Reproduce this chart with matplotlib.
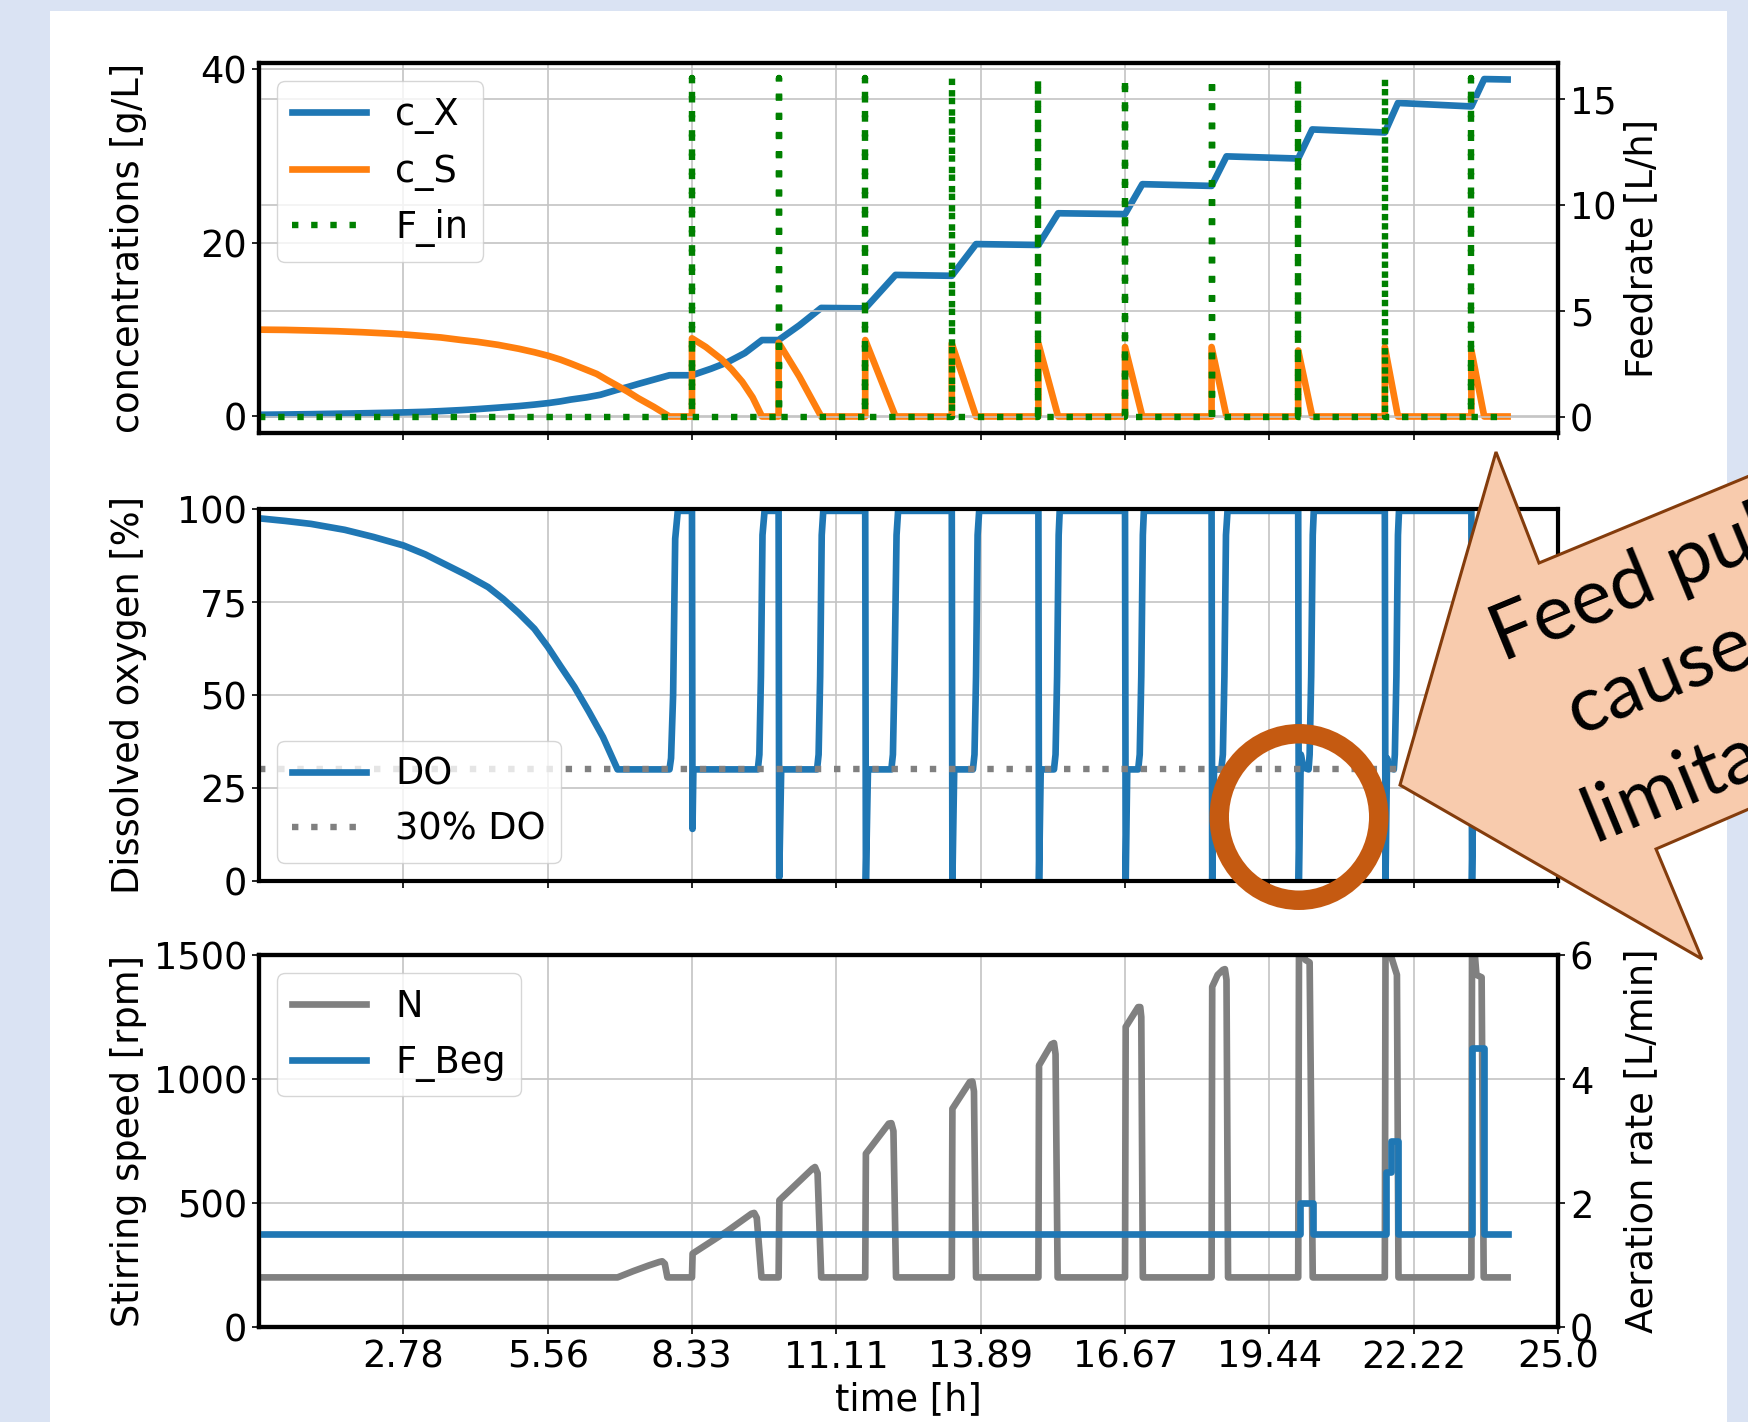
import matplotlib
matplotlib.use("Agg")
import matplotlib.pyplot as plt
from matplotlib.patches import Rectangle, Polygon, Ellipse
from matplotlib.transforms import Affine2D

# x axis
tick_labels = ["2.78", "5.56", "8.33", "11.11", "13.89", "16.67", "19.44", "22.22", "25.0"]

# biomass c_X [g/L]
t_x = [0.0, 0.5, 1.0, 1.5, 2.0, 2.5, 2.78, 3.2, 3.5, 3.9, 4.2, 4.6, 5.0, 5.3, 5.56,
       5.8, 6.0, 6.3, 6.57, 6.88, 7.1, 7.3, 7.45, 7.6, 7.75, 7.9,
       8.333, 8.7, 9.0, 9.35, 9.68, 10.0, 10.4, 10.82, 11.667, 12.25, 13.333, 13.8,
       15.0, 15.38, 16.667, 17.0, 18.333, 18.62, 20.0, 20.27, 21.667, 21.92,
       23.333, 23.58, 24.03]
c_x = [0.2, 0.23, 0.27, 0.32, 0.37, 0.43, 0.47, 0.54, 0.62, 0.74, 0.85, 1.02, 1.2, 1.37, 1.54,
       1.74, 1.95, 2.2, 2.5, 3.05, 3.4, 3.75, 4.0, 4.25, 4.5, 4.75,
       4.75, 5.5, 6.2, 7.3, 8.8, 8.8, 10.5, 12.5, 12.45, 16.3, 16.2, 19.85,
       19.75, 23.4, 23.3, 26.75, 26.55, 29.95, 29.7, 33.05, 32.7, 36.1,
       35.7, 38.85, 38.8]

# substrate c_S [g/L]
t_s = [0.0, 0.5, 1.0, 1.5, 2.0, 2.5, 2.78, 3.2, 3.5, 3.9, 4.2, 4.6, 5.0, 5.3, 5.56,
       5.8, 6.0, 6.25, 6.5, 6.7, 6.88, 7.1, 7.3, 7.45, 7.6, 7.75, 7.9,
       8.333, 8.333, 8.6, 8.9, 9.1, 9.3, 9.5, 9.68, 10.0, 10.0, 10.4, 10.82,
       11.667, 11.667, 12.25, 13.333, 13.333, 13.8, 15.0, 15.0, 15.38,
       16.667, 16.667, 17.0, 18.333, 18.333, 18.62, 20.0, 20.0, 20.27,
       21.667, 21.667, 21.92, 23.333, 23.333, 23.58, 24.03]
c_s = [10.0, 9.97, 9.9, 9.82, 9.7, 9.55, 9.45, 9.25, 9.1, 8.8, 8.6, 8.25, 7.8, 7.4, 7.0,
       6.55, 6.1, 5.5, 4.9, 4.2, 3.6, 2.85, 2.1, 1.6, 1.1, 0.55, 0.0,
       0.0, 9.0, 8.0, 6.6, 5.4, 4.0, 2.2, 0.0, 0.0, 8.5, 4.6, 0.0,
       0.0, 8.8, 0.0, 0.0, 8.4, 0.0, 0.0, 8.4, 0.0,
       0.0, 8.0, 0.0, 0.0, 8.0, 0.0, 0.0, 7.6, 0.0,
       0.0, 8.0, 0.0, 0.0, 7.6, 0.0, 0.0]

# feed pulses F_in [L/h]
pulse_times = [8.333, 10.0, 11.667, 13.333, 15.0, 16.667, 18.333, 20.0, 21.667, 23.333]
pulse_height = 16.0
t_end = 24.03

# dissolved oxygen [%]
t_do = [0.0, 0.5, 1.0, 1.65, 2.2, 2.78, 3.2, 3.6, 4.0, 4.41, 4.7, 5.0, 5.3, 5.56,
        5.8, 6.07, 6.35, 6.62, 6.9,
        7.9, 7.93, 7.97, 8.01, 8.06,
        8.333, 8.343, 8.36,
        9.6, 9.63, 9.66, 9.69, 9.73,
        10.0, 10.012, 10.05,
        10.74, 10.77, 10.8, 10.83, 10.86,
        11.667, 11.68, 11.72,
        12.17, 12.2, 12.23, 12.27, 12.3,
        13.333, 13.345, 13.38,
        13.74, 13.77, 13.8, 13.83, 13.86,
        15.0, 15.012, 15.045,
        15.3, 15.33, 15.36, 15.39, 15.41,
        16.667, 16.68, 16.71,
        16.92, 16.95, 16.98, 17.01, 17.03,
        18.333, 18.345, 18.38,
        18.52, 18.55, 18.58, 18.61, 18.64,
        20.0, 20.012, 20.05, 20.1,
        20.2, 20.22, 20.25, 20.28, 20.3,
        21.667, 21.68, 21.71, 21.75,
        21.84, 21.86, 21.89, 21.92, 21.94,
        23.333, 23.345, 23.38, 23.42,
        23.5, 23.52, 23.55, 23.58, 23.6,
        24.03]
do = [97.5, 96.8, 96.0, 94.4, 92.5, 90.2, 87.8, 85.0, 82.2, 79.0, 75.8, 72.0, 67.8, 62.9,
      57.8, 52.2, 45.5, 38.7, 30.0,
      30.0, 33.0, 50.0, 92.0, 99.5,
      99.5, 14.0, 30.0,
      30.0, 34.0, 55.0, 93.0, 99.5,
      99.5, 1.0, 30.0,
      30.0, 34.0, 55.0, 93.0, 99.5,
      99.5, 0.0, 30.0,
      30.0, 34.0, 55.0, 93.0, 99.5,
      99.5, 0.0, 30.0,
      30.0, 34.0, 55.0, 93.0, 99.5,
      99.5, 0.0, 30.0,
      30.0, 34.0, 55.0, 93.0, 99.5,
      99.5, 0.0, 30.0,
      30.0, 34.0, 55.0, 93.0, 99.5,
      99.5, 0.0, 30.0,
      30.0, 34.0, 55.0, 93.0, 99.5,
      99.5, 0.0, 34.0, 30.5,
      30.0, 34.0, 55.0, 93.0, 99.5,
      99.5, 0.0, 33.0, 30.5,
      30.0, 34.0, 55.0, 93.0, 99.5,
      99.5, 0.0, 33.0, 30.5,
      30.0, 34.0, 55.0, 93.0, 99.5,
      99.5]
do_setpoint = 30

# stirring speed N [rpm]
t_n = [0.0, 6.9, 7.2, 7.5, 7.7, 7.76, 7.81, 7.86,
       8.333, 8.345, 9.0, 9.48, 9.53, 9.58, 9.67,
       10.0, 10.015, 10.65, 10.7, 10.75, 10.82,
       11.667, 11.68, 12.12, 12.17, 12.21, 12.26,
       13.333, 13.345, 13.68, 13.73, 13.76, 13.8,
       15.0, 15.012, 15.25, 15.3, 15.33, 15.37,
       16.667, 16.68, 16.92, 16.96, 16.98, 17.01,
       18.333, 18.345, 18.45, 18.55, 18.59, 18.62, 18.65,
       20.0, 20.015, 20.1, 20.14, 20.22, 20.28,
       21.667, 21.68, 21.78, 21.84, 21.9, 21.93,
       23.333, 23.345, 23.4, 23.43, 23.53, 23.57,
       24.03]
n_rpm = [200, 200, 225, 248, 262, 265, 255, 200,
         200, 296, 385, 457, 460, 440, 200,
         200, 511, 638, 645, 620, 200,
         200, 699, 820, 822, 790, 200,
         200, 880, 988, 990, 950, 200,
         200, 1055, 1140, 1145, 1100, 200,
         200, 1210, 1290, 1290, 1250, 200,
         200, 1372, 1420, 1440, 1443, 1400, 200,
         200, 1500, 1500, 1480, 1470, 200,
         200, 1500, 1500, 1460, 1420, 200,
         200, 1500, 1500, 1420, 1410, 200,
         200]

# aeration F_Beg [L/min]
t_beg = [0.0, 20.04, 20.04, 20.28, 20.28, 21.69, 21.69, 21.79, 21.79, 21.93, 21.93,
         23.35, 23.35, 23.58, 23.58, 24.03]
f_beg = [1.5, 1.5, 2.0, 2.0, 1.5, 1.5, 2.5, 2.5, 3.0, 3.0, 1.5,
         1.5, 4.5, 4.5, 1.5, 1.5]

# build the pulse train for F_in (up and straight back down)
t_f = [0.0]
f_in = [0.0]
for tp in pulse_times:
    t_f += [tp, tp, tp]
    f_in += [0.0, pulse_height, 0.0]
t_f.append(t_end)
f_in.append(0.0)

plt.rcParams["font.family"] = "DejaVu Sans"
plt.rcParams["font.size"] = 26.5
plt.rcParams["path.simplify"] = False

BLUE = "#1f77b4"
ORANGE = "#ff7f0e"
LW = 4.8
DOT_LW = 4.6
DOTS = (0, (1, 2.0))

W, H = 1749, 1422
fig = plt.figure(figsize=(W / 100, H / 100), dpi=100, facecolor="#dae3f3")
pix = Affine2D().scale(1 / W, -1 / H).translate(0, 1) + fig.transFigure

# white slide panel
fig.add_artist(Rectangle((50, 11), 1677, 1500, transform=pix, facecolor="white",
                         edgecolor="none", zorder=-5))


def box(l, t, r, b):
    return [l / W, 1 - b / H, (r - l) / W, (b - t) / H]


ax1 = fig.add_axes(box(259, 63, 1558, 433))
ax2 = fig.add_axes(box(259, 509, 1558, 881), sharex=ax1)
ax3 = fig.add_axes(box(259, 955, 1558, 1327), sharex=ax1)

# top: concentrations + feed
ax1.plot(t_x, c_x, color=BLUE, lw=LW, label="c_X")
ax1.plot(t_s, c_s, color=ORANGE, lw=LW, label="c_S")
ax1b = ax1.twinx()
ax1b.plot(t_f, f_in, color="green", lw=DOT_LW, ls=DOTS, label="F_in")
ax1.set_ylim(-1.9, 40.7)
ax1.set_yticks([0, 20, 40])
ax1b.set_ylim(-0.77, 16.72)
ax1b.set_yticks([0, 5, 10, 15])
ax1.set_ylabel("concentrations [g/L]")
ax1b.set_ylabel("Feedrate [L/h]")
h1, l1 = ax1.get_legend_handles_labels()
h2, l2 = ax1b.get_legend_handles_labels()
ax1b.legend(h1 + h2, l1 + l2, loc="upper left")

# middle: dissolved oxygen
ax2.plot(t_do, do, color=BLUE, lw=LW, label="DO")
ax2.axhline(do_setpoint, color="gray", lw=DOT_LW, ls=DOTS, label="30% DO")
ax2.set_ylim(0, 100)
ax2.set_yticks([0, 25, 50, 75, 100])
ax2.set_ylabel("Dissolved oxygen [%]")
ax2.legend(loc="lower left")

# bottom: stirrer + aeration
ax3.plot(t_n, n_rpm, color="gray", lw=LW, label="N")
ax3b = ax3.twinx()
ax3b.plot(t_beg, f_beg, color=BLUE, lw=LW, label="F_Beg")
ax3.set_ylim(0, 1500)
ax3.set_yticks([0, 500, 1000, 1500])
ax3b.set_ylim(0, 6)
ax3b.set_yticks([0, 2, 4, 6])
ax3.set_ylabel("Stirring speed [rpm]")
ax3b.set_ylabel("Aeration rate [L/min]")
ax3.set_xlabel("time [h]")
h1, l1 = ax3.get_legend_handles_labels()
h2, l2 = ax3b.get_legend_handles_labels()
ax3b.legend(h1 + h2, l1 + l2, loc="upper left")

ax3.set_xlim(0, 25)
ax3.set_xticks([float(s) for s in tick_labels], tick_labels)
ax1.tick_params(labelbottom=False)
ax2.tick_params(labelbottom=False)

for ax in [ax1, ax1b, ax2, ax3, ax3b]:
    for sp in ax.spines.values():
        sp.set_linewidth(3)
        sp.set_color("black")
    ax.tick_params(length=5, width=1.2, labelsize=26.5)
for ax in [ax1, ax1b, ax2, ax3]:
    ax.grid(True, color="#c4c4c4", lw=1.2)

for ax in [ax1, ax2, ax3]:
    ax.yaxis.set_label_coords(-0.086, 0.5)
for ax in [ax1b, ax3b]:
    ax.yaxis.set_label_coords(1.05, 0.5)

# slide annotations: highlight ring and callout
fig.add_artist(Ellipse((1299, 817), 159.5, 166.5, transform=pix, fill=False,
                       edgecolor="#c55a11", lw=14, zorder=11))
callout = [(1496, 452), (1539, 563), (1800, 455), (1800, 787),
           (1656, 849), (1702, 959), (1400, 785)]
fig.add_artist(Polygon(callout, closed=True, transform=pix, facecolor="#f8cbad",
                       edgecolor="#843c0c", lw=2.2, zorder=10))
for txt, (x, y) in [("Feed pulses", (1503, 662)), ("cause O2", (1579, 737)),
                    ("limitation", (1594, 842))]:
    fig.text(x, y, txt, transform=pix, rotation=22.4, rotation_mode="anchor",
             ha="left", va="baseline", fontsize=56, family="Lato", zorder=12)

fig.savefig("out.png", dpi=100, facecolor=fig.get_facecolor())
